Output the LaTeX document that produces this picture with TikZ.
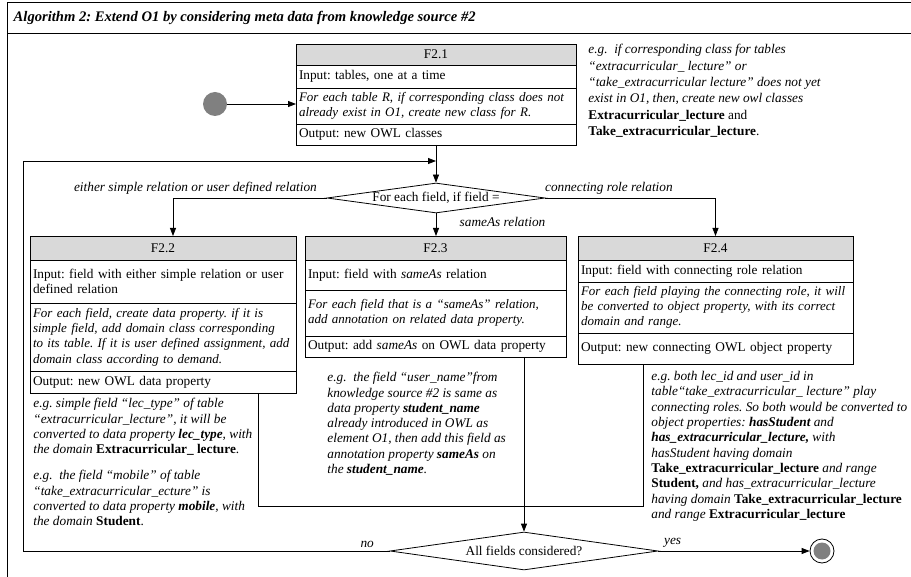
\documentclass[tikz,border=0pt]{standalone}
\usepackage{fontspec}
\setmainfont{Liberation Serif}
\usetikzlibrary{arrows.meta}
\usetikzlibrary{calc}
\usetikzlibrary{positioning}
\usetikzlibrary{shapes.geometric}

\frenchspacing
\newcommand{\fsz}{\fontsize{13.3}{15.3}\selectfont}
\newcommand{\bup}[1]{\textbf{\textup{#1}}}

\tikzset{
	hdr/.style={draw, fill=gray!30, align=center, font=\fsz, inner xsep=3pt, inner ysep=1pt, outer sep=0pt},
	row/.style={draw, align=left, font=\fsz, inner xsep=3pt, inner ysep=1pt, outer sep=0pt},
	rowit/.style={row, font=\fontsize{13}{15.3}\selectfont\itshape},
	dec/.style={diamond, draw, aspect=7.5, inner sep=0pt, font=\fsz},
	note/.style={align=left, font=\fsz\itshape, inner sep=0pt},
	lbl/.style={font=\fsz\itshape},
}

\begin{document}
\begin{tikzpicture}[x=1pt, y=-1pt, line width=0.8pt, >={Triangle[length=8pt,width=6pt]}]
	\useasboundingbox (0,0) rectangle (911,577);
	
	\draw[line width=1pt] (7,577) -- (7,3) -- (911,3);
	\draw[line width=1pt] (7,34) -- (911,34);
	\node[anchor=west, font=\fontsize{14.6}{16}\selectfont\bfseries\itshape] (title) at (10,18) {Algorithm 2: Extend O1 by considering meta data from knowledge source \#2};
	
	\node[circle, fill=gray, minimum size=24pt, inner sep=0pt] (start) at (215,104) {};
	
	% F2.1
	\node[hdr, text width=274pt, minimum height=21pt, anchor=north west] (f21h) at (296,44) {F2.1};
	\node[row, text width=274pt, minimum height=23pt, below=0pt of f21h] (f21i) {Input: tables, one at a time};
	\node[rowit, text width=274pt, minimum height=36pt, below=0pt of f21i] (f21b) {For each table R, if  corresponding class does not\\already exist in O1, create new class for R.};
	\node[row, text width=274pt, minimum height=21pt, below=0pt of f21b] (f21o) {Output: new OWL classes};
	
	\node[note, anchor=north west, font=\fontsize{13.3}{16.4}\selectfont\itshape] (n21) at (588,44) {e.g.\ \ if corresponding class for tables\\
		“extracurricular\_ lecture” or\\
		“take\_extracurricular lecture” does not yet\\
		exist in O1, then, create new owl classes\\
		\bup{Extracurricular\_lecture} \textup{and}\\
		\bup{Take\_extracurricular\_lecture}\textup{.}};
	
	\node[dec, minimum width=218pt, minimum height=30pt] (dec1) at (436,198) {For each field, if field =};
	
	% F2.2
	\node[hdr, text width=260pt, minimum height=24pt, anchor=north west] (f22h) at (30,236) {F2.2};
	\node[row, text width=260pt, minimum height=43pt, below=0pt of f22h] (f22i) {Input: field with either simple relation or user\\defined relation};
	\node[rowit, text width=260pt, minimum height=68pt, below=0pt of f22i] (f22b) {For each field, create data property. if it is\\simple field, add domain class corresponding\\to its table. If it is user defined assignment, add\\domain class according to demand.};
	\node[row, text width=260pt, minimum height=22pt, below=0pt of f22b] (f22o) {Output: new OWL data property};
	
	% F2.3
	\node[hdr, text width=255pt, minimum height=24pt, anchor=north west] (f23h) at (305,236) {F2.3};
	\node[row, text width=255pt, minimum height=30pt, below=0pt of f23h] (f23i) {Input: field with \textit{sameAs} relation};
	\node[rowit, text width=255pt, minimum height=46pt, below=0pt of f23i] (f23b) {For each  field that is a “sameAs” relation,\\add annotation on related data property.};
	\node[row, text width=255pt, minimum height=21pt, below=0pt of f23b] (f23o) {Output: add \textit{sameAs} on OWL data property};
	
	% F2.4
	\node[hdr, text width=269pt, minimum height=24pt, anchor=north west] (f24h) at (578,236) {F2.4};
	\node[row, text width=269pt, minimum height=22pt, below=0pt of f24h] (f24i) {Input: field with connecting role relation};
	\node[rowit, text width=269pt, minimum height=51pt, below=0pt of f24i] (f24b) {For each field playing the connecting role, it will\\be converted to object property, with its correct\\domain and range.};
	\node[row, text width=269pt, minimum height=31pt, below=0pt of f24b] (f24o) {Output: new connecting OWL object property};
	
	\node[note, anchor=north west] (n22) at (33,398) {e.g. simple field “lec\_type” of table\\
		“extracurricular\_lecture”, it will be\\
		converted to data property \textbf{lec\_type}, with\\
		the domain \bup{Extracurricular\_ lecture}\textup{.}\\[11pt]
		e.g.\ \ the field “mobile” of table\\
		“take\_extracurricular\_ecture” is\\
		converted to data property \textbf{mobile}, with\\
		the domain \bup{Student}\textup{.}};
	\node[note, anchor=north west] (n23) at (327,372) {e.g.\ \ the field “user\_name”from\\
		knowledge source \#2 is same as\\
		data property \textbf{student\_name}\\
		already introduced in OWL as\\
		element O1, then add this field as\\
		annotation property \textbf{sameAs} on\\
		the \textbf{student\_name}.};
	\node[note, anchor=north west] (n24) at (651,371) {e.g. both lec\_id and user\_id in\\
		table“take\_extracurricular\_ lecture” play\\
		connecting roles. So both would be converted to\\
		object properties: \textbf{hasStudent} and\\
		\textbf{has\_extracurricular\_lecture,} with\\
		hasStudent having domain\\
		\bup{Take\_extracurricular\_lecture} and range\\
		\bup{Student,} and has\_extracurricular\_lecture\\
		having domain \bup{Take\_extracurricular\_lecture}\\
		and range \bup{Extracurricular\_lecture}};
	
	\node[dec, minimum width=268pt, minimum height=38pt] (dec2) at (524,551) {All fields considered?};
	\node[circle, draw, minimum size=24pt, inner sep=0pt] (stop) at (822,551) {};
	\fill[gray] (stop.center) circle (8.5pt);
	
	\coordinate (back) at (23,161);
	\coordinate (j1) at (258,506);
	\coordinate (j2) at (643,506);
	
	\draw[->] (start) -- (start -| f21b.west);
	\draw[->] (f21o.south) -- (dec1.north);
	\draw[->] (dec1.west) node[lbl, above left, xshift=-6pt] {either simple relation or user defined relation} -| ([xshift=10pt]f22h.north);
	\draw[->] (dec1.south) node[lbl, below right, xshift=20pt] {sameAs relation} -- (dec1.south |- f23h.north);
	\draw[->] (dec1.east) node[lbl, above right, xshift=-4pt] {connecting role relation} -| (f24h.north);
	
	\draw (j1 |- f22o.south) -- (j1) -- (j2) -- (j2 |- f24o.south);
	\draw[->] (dec2.north |- f23o.south) -- (dec2.north);
	
	\draw[->] (dec2.west) node[lbl, above left, xshift=-12pt] {no} -| (back) -- (back -| dec1.north);
	\draw[->] (dec2.east) node[lbl, above right, xshift=2pt] {yes} -- (stop);
\end{tikzpicture}
\end{document}
